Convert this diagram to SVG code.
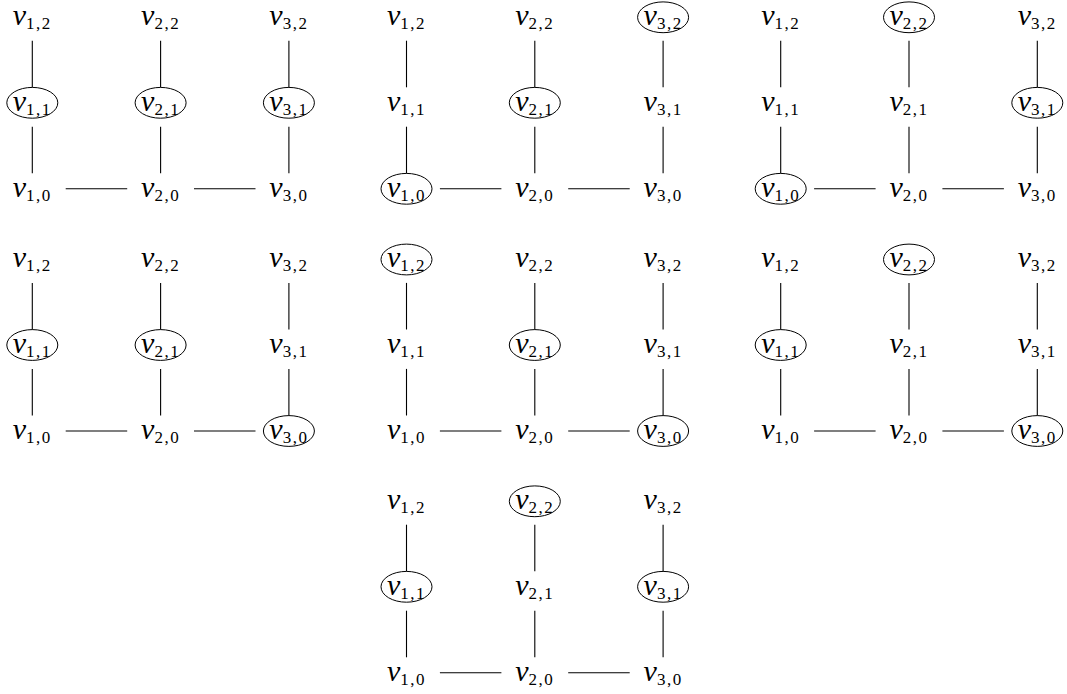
<svg xmlns="http://www.w3.org/2000/svg" width="1067" height="694" viewBox="0 0 1067 694">
<style>
.bg{fill:#ffffff}
text{font-family:"Liberation Serif","DejaVu Serif",serif;fill:#000;text-anchor:middle}
.v{font-size:30px;font-style:italic}
.s{font-size:17px;font-style:normal;letter-spacing:1.5px}
.c{fill:none;stroke:#000;stroke-width:1}
.e line{stroke:#000;stroke-width:1.1}
</style>
<rect class="bg" x="0" y="0" width="1067" height="694"/>
<g id="connectors" class="e">
<!-- panel 1 -->
<line x1="32.3" y1="40.7" x2="32.3" y2="87.3"/><line x1="32.3" y1="126.7" x2="32.3" y2="173.3"/>
<line x1="160.6" y1="40.7" x2="160.6" y2="87.3"/><line x1="160.6" y1="126.7" x2="160.6" y2="173.3"/>
<line x1="288.9" y1="40.7" x2="288.9" y2="87.3"/><line x1="288.9" y1="126.7" x2="288.9" y2="173.3"/>
<line x1="65.7" y1="188.8" x2="127.2" y2="188.8"/><line x1="194" y1="188.8" x2="255.5" y2="188.8"/>
<!-- panel 2 -->
<line x1="406.5" y1="40.7" x2="406.5" y2="87.3"/><line x1="406.5" y1="126.7" x2="406.5" y2="173.3"/>
<line x1="534.8" y1="40.7" x2="534.8" y2="87.3"/><line x1="534.8" y1="126.7" x2="534.8" y2="173.3"/>
<line x1="663.1" y1="40.7" x2="663.1" y2="87.3"/><line x1="663.1" y1="126.7" x2="663.1" y2="173.3"/>
<line x1="439.9" y1="188.8" x2="501.4" y2="188.8"/><line x1="568.2" y1="188.8" x2="629.7" y2="188.8"/>
<!-- panel 3 -->
<line x1="780.7" y1="40.7" x2="780.7" y2="87.3"/><line x1="780.7" y1="126.7" x2="780.7" y2="173.3"/>
<line x1="909" y1="40.7" x2="909" y2="87.3"/><line x1="909" y1="126.7" x2="909" y2="173.3"/>
<line x1="1037.3" y1="40.7" x2="1037.3" y2="87.3"/><line x1="1037.3" y1="126.7" x2="1037.3" y2="173.3"/>
<line x1="814.1" y1="188.8" x2="875.6" y2="188.8"/><line x1="942.4" y1="188.8" x2="1003.9" y2="188.8"/>
<!-- panel 4 -->
<line x1="32.3" y1="282.9" x2="32.3" y2="329.5"/><line x1="32.3" y1="368.9" x2="32.3" y2="415.5"/>
<line x1="160.6" y1="282.9" x2="160.6" y2="329.5"/><line x1="160.6" y1="368.9" x2="160.6" y2="415.5"/>
<line x1="288.9" y1="282.9" x2="288.9" y2="329.5"/><line x1="288.9" y1="368.9" x2="288.9" y2="415.5"/>
<line x1="65.7" y1="431" x2="127.2" y2="431"/><line x1="194" y1="431" x2="255.5" y2="431"/>
<!-- panel 5 -->
<line x1="406.5" y1="282.9" x2="406.5" y2="329.5"/><line x1="406.5" y1="368.9" x2="406.5" y2="415.5"/>
<line x1="534.8" y1="282.9" x2="534.8" y2="329.5"/><line x1="534.8" y1="368.9" x2="534.8" y2="415.5"/>
<line x1="663.1" y1="282.9" x2="663.1" y2="329.5"/><line x1="663.1" y1="368.9" x2="663.1" y2="415.5"/>
<line x1="439.9" y1="431" x2="501.4" y2="431"/><line x1="568.2" y1="431" x2="629.7" y2="431"/>
<!-- panel 6 -->
<line x1="780.7" y1="282.9" x2="780.7" y2="329.5"/><line x1="780.7" y1="368.9" x2="780.7" y2="415.5"/>
<line x1="909" y1="282.9" x2="909" y2="329.5"/><line x1="909" y1="368.9" x2="909" y2="415.5"/>
<line x1="1037.3" y1="282.9" x2="1037.3" y2="329.5"/><line x1="1037.3" y1="368.9" x2="1037.3" y2="415.5"/>
<line x1="814.1" y1="431" x2="875.6" y2="431"/><line x1="942.4" y1="431" x2="1003.9" y2="431"/>
<!-- panel 7 -->
<line x1="406.5" y1="524.7" x2="406.5" y2="571.3"/><line x1="406.5" y1="610.7" x2="406.5" y2="657.3"/>
<line x1="534.8" y1="524.7" x2="534.8" y2="571.3"/><line x1="534.8" y1="610.7" x2="534.8" y2="657.3"/>
<line x1="663.1" y1="524.7" x2="663.1" y2="571.3"/><line x1="663.1" y1="610.7" x2="663.1" y2="657.3"/>
<line x1="439.9" y1="672.8" x2="501.4" y2="672.8"/><line x1="568.2" y1="672.8" x2="629.7" y2="672.8"/>
</g>

<!-- Panel 1 -->
<g id="p1">
<g id="p1-v12"><text x="32.3" y="25"><tspan class="v">v</tspan><tspan class="s" dy="4">1,2</tspan></text></g>
<g id="p1-v22"><text x="160.6" y="25"><tspan class="v">v</tspan><tspan class="s" dy="4">2,2</tspan></text></g>
<g id="p1-v32"><text x="288.9" y="25"><tspan class="v">v</tspan><tspan class="s" dy="4">3,2</tspan></text></g>
<g id="p1-v11"><ellipse class="c" cx="32.3" cy="102.8" rx="25.5" ry="15.4"/><text x="32.3" y="110.5"><tspan class="v">v</tspan><tspan class="s" dy="4">1,1</tspan></text></g>
<g id="p1-v21"><ellipse class="c" cx="160.6" cy="102.8" rx="25.5" ry="15.4"/><text x="160.6" y="110.5"><tspan class="v">v</tspan><tspan class="s" dy="4">2,1</tspan></text></g>
<g id="p1-v31"><ellipse class="c" cx="288.9" cy="102.8" rx="25.5" ry="15.4"/><text x="288.9" y="110.5"><tspan class="v">v</tspan><tspan class="s" dy="4">3,1</tspan></text></g>
<g id="p1-v10"><text x="32.3" y="196.5"><tspan class="v">v</tspan><tspan class="s" dy="4">1,0</tspan></text></g>
<g id="p1-v20"><text x="160.6" y="196.5"><tspan class="v">v</tspan><tspan class="s" dy="4">2,0</tspan></text></g>
<g id="p1-v30"><text x="288.9" y="196.5"><tspan class="v">v</tspan><tspan class="s" dy="4">3,0</tspan></text></g>
</g>

<!-- Panel 2 -->
<g id="p2">
<g id="p2-v12"><text x="406.5" y="25"><tspan class="v">v</tspan><tspan class="s" dy="4">1,2</tspan></text></g>
<g id="p2-v22"><text x="534.8" y="25"><tspan class="v">v</tspan><tspan class="s" dy="4">2,2</tspan></text></g>
<g id="p2-v32"><ellipse class="c" cx="663.1" cy="17.3" rx="25.5" ry="15.4"/><text x="663.1" y="25"><tspan class="v">v</tspan><tspan class="s" dy="4">3,2</tspan></text></g>
<g id="p2-v11"><text x="406.5" y="110.5"><tspan class="v">v</tspan><tspan class="s" dy="4">1,1</tspan></text></g>
<g id="p2-v21"><ellipse class="c" cx="534.8" cy="102.8" rx="25.5" ry="15.4"/><text x="534.8" y="110.5"><tspan class="v">v</tspan><tspan class="s" dy="4">2,1</tspan></text></g>
<g id="p2-v31"><text x="663.1" y="110.5"><tspan class="v">v</tspan><tspan class="s" dy="4">3,1</tspan></text></g>
<g id="p2-v10"><ellipse class="c" cx="406.5" cy="188.8" rx="25.5" ry="15.4"/><text x="406.5" y="196.5"><tspan class="v">v</tspan><tspan class="s" dy="4">1,0</tspan></text></g>
<g id="p2-v20"><text x="534.8" y="196.5"><tspan class="v">v</tspan><tspan class="s" dy="4">2,0</tspan></text></g>
<g id="p2-v30"><text x="663.1" y="196.5"><tspan class="v">v</tspan><tspan class="s" dy="4">3,0</tspan></text></g>
</g>

<!-- Panel 3 -->
<g id="p3">
<g id="p3-v12"><text x="780.7" y="25"><tspan class="v">v</tspan><tspan class="s" dy="4">1,2</tspan></text></g>
<g id="p3-v22"><ellipse class="c" cx="909" cy="17.3" rx="25.5" ry="15.4"/><text x="909" y="25"><tspan class="v">v</tspan><tspan class="s" dy="4">2,2</tspan></text></g>
<g id="p3-v32"><text x="1037.3" y="25"><tspan class="v">v</tspan><tspan class="s" dy="4">3,2</tspan></text></g>
<g id="p3-v11"><text x="780.7" y="110.5"><tspan class="v">v</tspan><tspan class="s" dy="4">1,1</tspan></text></g>
<g id="p3-v21"><text x="909" y="110.5"><tspan class="v">v</tspan><tspan class="s" dy="4">2,1</tspan></text></g>
<g id="p3-v31"><ellipse class="c" cx="1037.3" cy="102.8" rx="25.5" ry="15.4"/><text x="1037.3" y="110.5"><tspan class="v">v</tspan><tspan class="s" dy="4">3,1</tspan></text></g>
<g id="p3-v10"><ellipse class="c" cx="780.7" cy="188.8" rx="25.5" ry="15.4"/><text x="780.7" y="196.5"><tspan class="v">v</tspan><tspan class="s" dy="4">1,0</tspan></text></g>
<g id="p3-v20"><text x="909" y="196.5"><tspan class="v">v</tspan><tspan class="s" dy="4">2,0</tspan></text></g>
<g id="p3-v30"><text x="1037.3" y="196.5"><tspan class="v">v</tspan><tspan class="s" dy="4">3,0</tspan></text></g>
</g>

<!-- Panel 4 -->
<g id="p4">
<g id="p4-v12"><text x="32.3" y="267.2"><tspan class="v">v</tspan><tspan class="s" dy="4">1,2</tspan></text></g>
<g id="p4-v22"><text x="160.6" y="267.2"><tspan class="v">v</tspan><tspan class="s" dy="4">2,2</tspan></text></g>
<g id="p4-v32"><text x="288.9" y="267.2"><tspan class="v">v</tspan><tspan class="s" dy="4">3,2</tspan></text></g>
<g id="p4-v11"><ellipse class="c" cx="32.3" cy="345" rx="25.5" ry="15.4"/><text x="32.3" y="352.7"><tspan class="v">v</tspan><tspan class="s" dy="4">1,1</tspan></text></g>
<g id="p4-v21"><ellipse class="c" cx="160.6" cy="345" rx="25.5" ry="15.4"/><text x="160.6" y="352.7"><tspan class="v">v</tspan><tspan class="s" dy="4">2,1</tspan></text></g>
<g id="p4-v31"><text x="288.9" y="352.7"><tspan class="v">v</tspan><tspan class="s" dy="4">3,1</tspan></text></g>
<g id="p4-v10"><text x="32.3" y="438.7"><tspan class="v">v</tspan><tspan class="s" dy="4">1,0</tspan></text></g>
<g id="p4-v20"><text x="160.6" y="438.7"><tspan class="v">v</tspan><tspan class="s" dy="4">2,0</tspan></text></g>
<g id="p4-v30"><ellipse class="c" cx="288.9" cy="431" rx="25.5" ry="15.4"/><text x="288.9" y="438.7"><tspan class="v">v</tspan><tspan class="s" dy="4">3,0</tspan></text></g>
</g>

<!-- Panel 5 -->
<g id="p5">
<g id="p5-v12"><ellipse class="c" cx="406.5" cy="259.5" rx="25.5" ry="15.4"/><text x="406.5" y="267.2"><tspan class="v">v</tspan><tspan class="s" dy="4">1,2</tspan></text></g>
<g id="p5-v22"><text x="534.8" y="267.2"><tspan class="v">v</tspan><tspan class="s" dy="4">2,2</tspan></text></g>
<g id="p5-v32"><text x="663.1" y="267.2"><tspan class="v">v</tspan><tspan class="s" dy="4">3,2</tspan></text></g>
<g id="p5-v11"><text x="406.5" y="352.7"><tspan class="v">v</tspan><tspan class="s" dy="4">1,1</tspan></text></g>
<g id="p5-v21"><ellipse class="c" cx="534.8" cy="345" rx="25.5" ry="15.4"/><text x="534.8" y="352.7"><tspan class="v">v</tspan><tspan class="s" dy="4">2,1</tspan></text></g>
<g id="p5-v31"><text x="663.1" y="352.7"><tspan class="v">v</tspan><tspan class="s" dy="4">3,1</tspan></text></g>
<g id="p5-v10"><text x="406.5" y="438.7"><tspan class="v">v</tspan><tspan class="s" dy="4">1,0</tspan></text></g>
<g id="p5-v20"><text x="534.8" y="438.7"><tspan class="v">v</tspan><tspan class="s" dy="4">2,0</tspan></text></g>
<g id="p5-v30"><ellipse class="c" cx="663.1" cy="431" rx="25.5" ry="15.4"/><text x="663.1" y="438.7"><tspan class="v">v</tspan><tspan class="s" dy="4">3,0</tspan></text></g>
</g>

<!-- Panel 6 -->
<g id="p6">
<g id="p6-v12"><text x="780.7" y="267.2"><tspan class="v">v</tspan><tspan class="s" dy="4">1,2</tspan></text></g>
<g id="p6-v22"><ellipse class="c" cx="909" cy="259.5" rx="25.5" ry="15.4"/><text x="909" y="267.2"><tspan class="v">v</tspan><tspan class="s" dy="4">2,2</tspan></text></g>
<g id="p6-v32"><text x="1037.3" y="267.2"><tspan class="v">v</tspan><tspan class="s" dy="4">3,2</tspan></text></g>
<g id="p6-v11"><ellipse class="c" cx="780.7" cy="345" rx="25.5" ry="15.4"/><text x="780.7" y="352.7"><tspan class="v">v</tspan><tspan class="s" dy="4">1,1</tspan></text></g>
<g id="p6-v21"><text x="909" y="352.7"><tspan class="v">v</tspan><tspan class="s" dy="4">2,1</tspan></text></g>
<g id="p6-v31"><text x="1037.3" y="352.7"><tspan class="v">v</tspan><tspan class="s" dy="4">3,1</tspan></text></g>
<g id="p6-v10"><text x="780.7" y="438.7"><tspan class="v">v</tspan><tspan class="s" dy="4">1,0</tspan></text></g>
<g id="p6-v20"><text x="909" y="438.7"><tspan class="v">v</tspan><tspan class="s" dy="4">2,0</tspan></text></g>
<g id="p6-v30"><ellipse class="c" cx="1037.3" cy="431" rx="25.5" ry="15.4"/><text x="1037.3" y="438.7"><tspan class="v">v</tspan><tspan class="s" dy="4">3,0</tspan></text></g>
</g>

<!-- Panel 7 -->
<g id="p7">
<g id="p7-v12"><text x="406.5" y="509"><tspan class="v">v</tspan><tspan class="s" dy="4">1,2</tspan></text></g>
<g id="p7-v22"><ellipse class="c" cx="534.8" cy="501.3" rx="25.5" ry="15.4"/><text x="534.8" y="509"><tspan class="v">v</tspan><tspan class="s" dy="4">2,2</tspan></text></g>
<g id="p7-v32"><text x="663.1" y="509"><tspan class="v">v</tspan><tspan class="s" dy="4">3,2</tspan></text></g>
<g id="p7-v11"><ellipse class="c" cx="406.5" cy="586.8" rx="25.5" ry="15.4"/><text x="406.5" y="594.5"><tspan class="v">v</tspan><tspan class="s" dy="4">1,1</tspan></text></g>
<g id="p7-v21"><text x="534.8" y="594.5"><tspan class="v">v</tspan><tspan class="s" dy="4">2,1</tspan></text></g>
<g id="p7-v31"><ellipse class="c" cx="663.1" cy="586.8" rx="25.5" ry="15.4"/><text x="663.1" y="594.5"><tspan class="v">v</tspan><tspan class="s" dy="4">3,1</tspan></text></g>
<g id="p7-v10"><text x="406.5" y="680.5"><tspan class="v">v</tspan><tspan class="s" dy="4">1,0</tspan></text></g>
<g id="p7-v20"><text x="534.8" y="680.5"><tspan class="v">v</tspan><tspan class="s" dy="4">2,0</tspan></text></g>
<g id="p7-v30"><text x="663.1" y="680.5"><tspan class="v">v</tspan><tspan class="s" dy="4">3,0</tspan></text></g>
</g>
</svg>
